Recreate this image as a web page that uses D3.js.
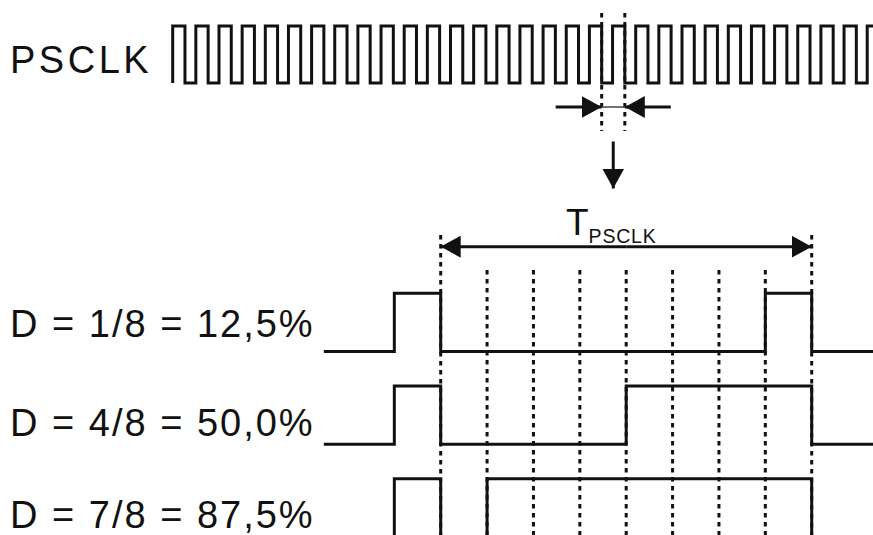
<!DOCTYPE html>
<html>
<head>
<meta charset="utf-8">
<script src="https://cdn.jsdelivr.net/npm/d3@7"></script>
<style>
  body { margin: 0; background: #fff; }
  svg { display: block; }
  text { font-family: "Liberation Sans", Arial, sans-serif; fill: #111; }
</style>
</head>
<body>
<script>
// clock: number of cycles drawn and high fraction of a cycle
var clockCycles = 30;
var clockDuty = 0.53;
var clockMarks = [18.53, 19.53];   // falling edges picked out by the dotted lines

// PWM rows, time in 1/8 of T_PSCLK; each point = [time, level]
var rowLabels = ["D = 1/8 = 12,5%", "D = 4/8 = 50,0%", "D = 7/8 = 87,5%"];
var rowSteps = [
    [[-2.52, 0], [-1, 1], [0, 0], [7, 1], [8, 0], [9.4, 0]],
    [[-2.52, 0], [-1, 1], [0, 0], [4, 1], [8, 0], [9.4, 0]],
    [[-1, 0], [-1, 1], [0, 0], [1, 0], [1, 1], [8, 0]]
];
var gridTicks = d3.range(0, 9);   // 0..8

var width = 873, height = 535;

var svg = d3.select("body").append("svg")
    .attr("width", width)
    .attr("height", height);

var defs = svg.append("defs");
defs.append("marker")
    .attr("id", "head")
    .attr("viewBox", "0 0 20 22")
    .attr("refX", 20).attr("refY", 11)
    .attr("markerWidth", 20).attr("markerHeight", 22)
    .attr("markerUnits", "userSpaceOnUse")
    .attr("orient", "auto")
  .append("path")
    .attr("d", "M0,0 L20,11 L0,22 Z")
    .attr("fill", "#111");

// ---- clock ----
var xc = d3.scaleLinear().domain([0, clockCycles]).range([172.7, 867.2]);
var yc = d3.scaleLinear().domain([0, 1]).range([83, 26]);

var clockPts = [];
d3.range(0, clockCycles + 1).forEach(function(k) {
    clockPts.push([k, 0], [k, 1], [k + clockDuty, 1], [k + clockDuty, 0]);
});

svg.append("path")
    .attr("d", d3.line().x(function(d) { return xc(d[0]); }).y(function(d) { return yc(d[1]); })(clockPts))
    .attr("fill", "none")
    .attr("stroke", "#111")
    .attr("stroke-width", 3)
    .attr("stroke-linejoin", "miter");

svg.append("text")
    .attr("x", 10).attr("y", 72.5)
    .attr("font-size", 38)
    .attr("letter-spacing", 3.5)
    .text("PSCLK");

// dotted marks on the clock
svg.selectAll(".cmark")
    .data(clockMarks)
    .enter().append("line")
    .attr("x1", function(d) { return xc(d); })
    .attr("x2", function(d) { return xc(d); })
    .attr("y1", 13).attr("y2", 131)
    .attr("stroke", "#111")
    .attr("stroke-width", 3)
    .attr("stroke-dasharray", "4.5,4.5");

var yArr = 107;
svg.append("line")
    .attr("x1", xc(clockMarks[0]) - 46).attr("x2", xc(clockMarks[0]))
    .attr("y1", yArr).attr("y2", yArr)
    .attr("stroke", "#111").attr("stroke-width", 3)
    .attr("marker-end", "url(#head)");
svg.append("line")
    .attr("x1", xc(clockMarks[1]) + 46).attr("x2", xc(clockMarks[1]))
    .attr("y1", yArr).attr("y2", yArr)
    .attr("stroke", "#111").attr("stroke-width", 3)
    .attr("marker-end", "url(#head)");
svg.append("line")
    .attr("x1", xc(clockMarks[0])).attr("x2", xc(clockMarks[1]))
    .attr("y1", yArr).attr("y2", yArr)
    .attr("stroke", "#444").attr("stroke-width", 1.5);

// down arrow
var xMid = (xc(clockMarks[0]) + xc(clockMarks[1])) / 2;
svg.append("line")
    .attr("x1", xMid).attr("x2", xMid)
    .attr("y1", 141.5).attr("y2", 188.5)
    .attr("stroke", "#111").attr("stroke-width", 3)
    .attr("marker-end", "url(#head)");

// ---- PWM rows ----
var x = d3.scaleLinear().domain([0, 8]).range([440.7, 811.7]);
var rowTop = d3.scaleLinear().domain([0, 1]).range([293.3, 386]);
var levelH = 58.3;

// dotted grid
svg.selectAll(".grid")
    .data(gridTicks)
    .enter().append("line")
    .attr("x1", function(d) { return x(d); })
    .attr("x2", function(d) { return x(d); })
    .attr("y1", function(d) { return (d === 0 || d === 8) ? 235 : 270; })
    .attr("y2", height)
    .attr("stroke", "#111")
    .attr("stroke-width", 3)
    .attr("stroke-dasharray", "4.5,4.5");

// T_PSCLK arrow
svg.append("line")
    .attr("x1", x(4)).attr("x2", x(0))
    .attr("y1", 246.7).attr("y2", 246.7)
    .attr("stroke", "#111").attr("stroke-width", 3)
    .attr("marker-end", "url(#head)");
svg.append("line")
    .attr("x1", x(4)).attr("x2", x(8))
    .attr("y1", 246.7).attr("y2", 246.7)
    .attr("stroke", "#111").attr("stroke-width", 3)
    .attr("marker-end", "url(#head)");

var tLabel = svg.append("text")
    .attr("x", 566).attr("y", 235)
    .attr("font-size", 37);
tLabel.append("tspan").text("T");
tLabel.append("tspan")
    .attr("font-size", 19.5)
    .attr("letter-spacing", 0.8)
    .attr("dy", 8)
    .attr("dx", 0)
    .text("PSCLK");

rowSteps.forEach(function(steps, i) {
    var top = rowTop(i);
    var line = d3.line()
        .x(function(d) { return x(d[0]); })
        .y(function(d) { return d[1] ? top : top + levelH; })
        .curve(d3.curveStepAfter);
    svg.append("path")
        .attr("d", line(steps))
        .attr("fill", "none")
        .attr("stroke", "#111")
        .attr("stroke-width", 3);
    svg.append("text")
        .attr("x", 10).attr("y", [337.3, 435.5, 527.5][i])
        .attr("font-size", 38)
        .attr("letter-spacing", 2)
        .text(rowLabels[i]);
});
</script>
</body>
</html>
